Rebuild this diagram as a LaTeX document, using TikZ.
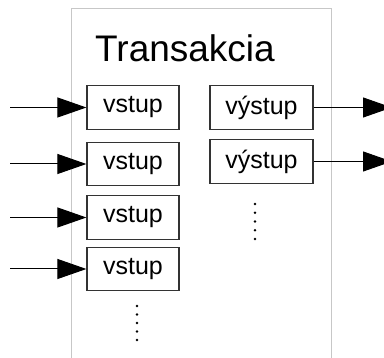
\documentclass[tikz,border=0pt]{standalone}
\usepackage{fontspec}
\setmainfont{Liberation Sans}
\usetikzlibrary{arrows.meta}
\begin{document}
\begin{tikzpicture}[x=1pt,y=-1pt,
  port/.style={draw=black!80, line width=1.2pt, minimum height=43.5pt, inner sep=0pt,
    font=\fontsize{25}{25}\selectfont},
  inport/.style={port, minimum width=92pt},
  outport/.style={port, minimum width=103pt},
  flow/.style={-{Triangle[length=29pt,width=20pt]}, line width=1pt},
  dot/.style={circle, fill=black, inner sep=0pt, minimum size=2.6pt}]
\useasboundingbox (0,0) rectangle (384,358);
\clip (0,0) rectangle (384,358);
% transaction frame, open at the bottom
\draw[black!22, line width=1pt] (71,372) -- (71,9) -- (331,9) -- (331,372);
\node[anchor=base west, inner sep=0pt, font=\fontsize{37}{37}\selectfont] (title) at (95,62) {Transakcia};
% inputs
\node[inport] (in1) at (133,107.5) {vstup};
\node[inport] (in2) at (133,164) {vstup};
\node[inport] (in3) at (133,217.5) {vstup};
\node[inport] (in4) at (133,269) {vstup};
% outputs
\node[outport] (out1) at (261.5,107.5) {výstup};
\node[outport] (out2) at (261.5,161.5) {výstup};
% incoming flows
\coordinate (s1) at (10,107.5);
\coordinate (s2) at (10,164);
\coordinate (s3) at (10,217.5);
\coordinate (s4) at (10,269);
\draw[flow] (s1) -- (in1.west);
\draw[flow] (s2) -- (in2.west);
\draw[flow] (s3) -- (in3.west);
\draw[flow] (s4) -- (in4.west);
% outgoing flows
\coordinate (e1) at (392,107.5);
\coordinate (e2) at (392,161.5);
\draw[flow] (out1.east) -- (e1);
\draw[flow] (out2.east) -- (e2);
% continuation dots
\foreach \k in {0,...,4} {
  \node[dot] (din\k) at (137,306+8.5*\k) {};
  \node[dot] (dout\k) at (255,204+8.75*\k) {};
}
\end{tikzpicture}
\end{document}
